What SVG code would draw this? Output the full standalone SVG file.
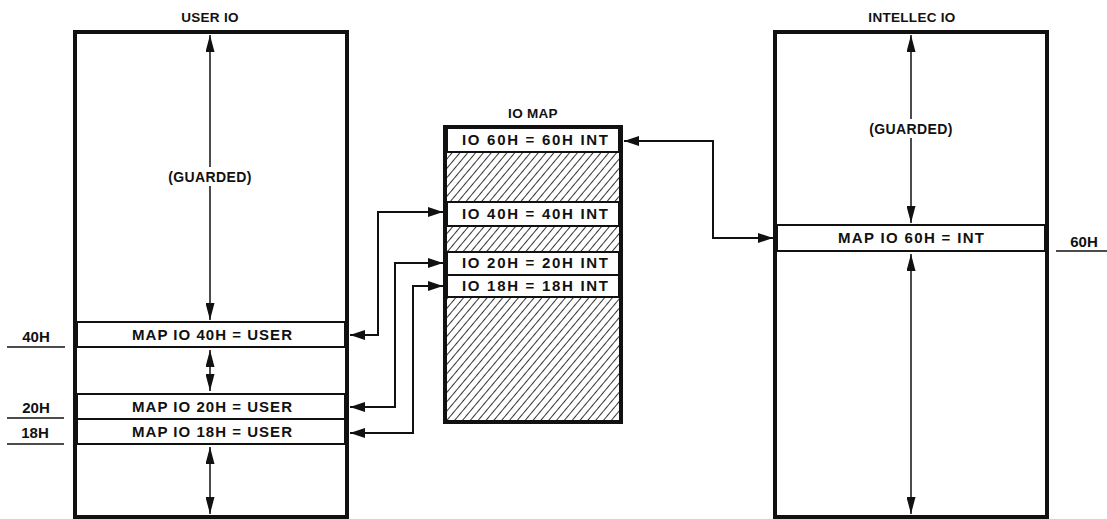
<svg xmlns="http://www.w3.org/2000/svg" width="1107" height="519" viewBox="0 0 1107 519">
<style>
text{font-family:"Liberation Sans",Arial,sans-serif;font-weight:bold;fill:#111;text-anchor:middle}
.t{font-size:13.5px;letter-spacing:0.3px}
.b{font-size:15px}
.g{font-size:14px;letter-spacing:0.4px}
.box{fill:none;stroke:#111;stroke-width:4}
.band{fill:#fff;stroke:#111;stroke-width:2}
.ax{stroke:#111;stroke-width:1.5;fill:none;marker-start:url(#ah);marker-end:url(#ah)}
.cn{stroke:#111;stroke-width:2;fill:none;marker-start:url(#ch);marker-end:url(#ch)}
.tick{stroke:#111;stroke-width:1.5}
.hatch{fill:url(#hp);stroke:#111;stroke-width:1}
</style>
<defs>
<marker id="ah" markerUnits="userSpaceOnUse" markerWidth="18" markerHeight="9" refX="17" refY="4.5" orient="auto-start-reverse"><path d="M0,0 L17,4.5 L0,9 z" fill="#111"/></marker>
<marker id="ch" markerUnits="userSpaceOnUse" markerWidth="16" markerHeight="10" refX="15" refY="5" orient="auto-start-reverse"><path d="M0,0 L15,5 L0,10 z" fill="#111"/></marker>
<pattern id="hp" patternUnits="userSpaceOnUse" width="6" height="6" patternTransform="rotate(40)">
<rect width="6" height="6" fill="#fff"/>
<line x1="0" y1="0" x2="0" y2="6" stroke="#111" stroke-width="1.7"/>
</pattern>
</defs>
<rect width="1107" height="519" fill="#fff"/>

<g id="user-io">
<text class="t" x="210" y="22">USER IO</text>
<rect class="box" x="75" y="32" width="272" height="485"/>
<rect class="band" x="77" y="322" width="268" height="25"/>
<rect class="band" x="77" y="394" width="268" height="25"/>
<rect class="band" x="77" y="419" width="268" height="25"/>
<text class="b" x="212" y="340" textLength="160" lengthAdjust="spacing">MAP IO 40H = USER</text>
<text class="b" x="212" y="412" textLength="160" lengthAdjust="spacing">MAP IO 20H = USER</text>
<text class="b" x="212" y="437" textLength="160" lengthAdjust="spacing">MAP IO 18H = USER</text>
<line class="ax" x1="210" y1="35" x2="210" y2="320"/>
<rect x="166" y="167" width="88" height="19" fill="#fff"/>
<text class="g" x="210" y="182">(GUARDED)</text>
<line class="ax" x1="210" y1="350" x2="210" y2="391"/>
<line class="ax" x1="210" y1="447" x2="210" y2="514"/>
</g>

<g id="user-labels">
<text class="b" x="36" y="342">40H</text>
<line class="tick" x1="7" y1="347" x2="65" y2="347"/>
<text class="b" x="36" y="413">20H</text>
<line class="tick" x1="7" y1="418" x2="64" y2="418"/>
<text class="b" x="35" y="438">18H</text>
<line class="tick" x1="7" y1="444" x2="64" y2="444"/>
</g>

<g id="io-map">
<text class="t" x="533" y="118">IO MAP</text>
<rect class="hatch" x="445" y="127" width="176" height="295"/>
<rect class="band" x="447" y="127" width="172" height="25"/>
<rect class="band" x="447" y="202" width="172" height="24"/>
<rect class="band" x="447" y="252" width="172" height="23"/>
<rect class="band" x="447" y="275" width="172" height="22"/>
<rect class="box" x="445" y="127" width="176" height="295"/>
<text class="b" x="535" y="145" textLength="146" lengthAdjust="spacing">IO 60H = 60H INT</text>
<text class="b" x="535" y="219" textLength="146" lengthAdjust="spacing">IO 40H = 40H INT</text>
<text class="b" x="535" y="268" textLength="146" lengthAdjust="spacing">IO 20H = 20H INT</text>
<text class="b" x="535" y="291" textLength="146" lengthAdjust="spacing">IO 18H = 18H INT</text>
</g>

<g id="intellec-io">
<text class="t" x="912" y="22">INTELLEC IO</text>
<rect class="box" x="775" y="32" width="272" height="485"/>
<rect class="band" x="777" y="225" width="268" height="26"/>
<text class="b" x="911" y="243" textLength="146" lengthAdjust="spacing">MAP IO 60H = INT</text>
<line class="ax" x1="911" y1="35" x2="911" y2="223"/>
<rect x="866" y="119" width="90" height="19" fill="#fff"/>
<text class="g" x="911" y="134">(GUARDED)</text>
<line class="ax" x1="911" y1="254" x2="911" y2="514"/>
<text class="b" x="1084" y="247">60H</text>
<line class="tick" x1="1056" y1="251" x2="1107" y2="251"/>
</g>

<g id="connectors">
<polyline class="cn" points="350,335 378,335 378,212 443,212"/>
<polyline class="cn" points="350,407 395,407 395,263 443,263"/>
<polyline class="cn" points="350,433 413,433 413,286 443,286"/>
<polyline class="cn" points="624,141 713,141 713,238 773,238"/>
</g>
</svg>
